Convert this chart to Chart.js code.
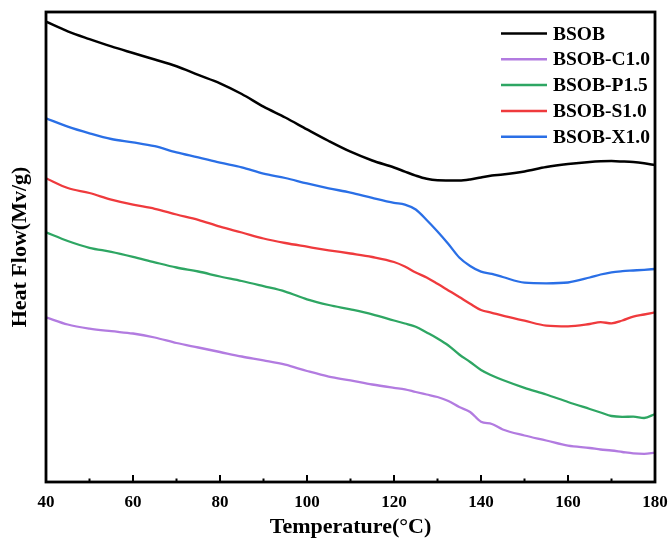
<!DOCTYPE html>
<html>
<head>
<meta charset="utf-8">
<title>DSC curves</title>
<script src="https://cdn.jsdelivr.net/npm/chart.js@4.4.1/dist/chart.umd.min.js"></script>
<style>
  html, body { margin: 0; padding: 0; background: #ffffff; }
  #wrap { width: 671px; height: 538px; }
</style>
</head>
<body>
<div id="wrap"><canvas id="dsc" width="671" height="538"></canvas></div>
<script>
// Temperature grid (°C), shared by all curves
const temperatures = [40, 45, 50, 55, 60, 65, 70, 75, 80, 85, 90, 95, 100, 105, 110, 115, 120,
  122.5, 125, 127.5, 130, 132.5, 135, 137.5, 140, 142.5, 145, 150, 155, 160, 165,
  167.5, 170, 172.5, 175, 177.5, 180];

// Heat flow traces (vertically offset, arbitrary units)
const bsob = [4.603, 4.507, 4.429, 4.356, 4.290, 4.225, 4.157, 4.071, 3.987, 3.880, 3.753, 3.645,
  3.526, 3.410, 3.303, 3.215, 3.145, 3.104, 3.064, 3.032, 3.017, 3.015, 3.014, 3.025, 3.046,
  3.064, 3.075, 3.106, 3.150, 3.180, 3.201, 3.207, 3.209, 3.205, 3.199, 3.187, 3.170];
const bsobC10 = [1.647, 1.575, 1.534, 1.508, 1.485, 1.445, 1.390, 1.345, 1.300, 1.255, 1.216, 1.173,
  1.110, 1.054, 1.016, 0.975, 0.942, 0.927, 0.900, 0.875, 0.850, 0.810, 0.750, 0.700, 0.603,
  0.580, 0.525, 0.465, 0.415, 0.363, 0.340, 0.325, 0.315, 0.300, 0.286, 0.282, 0.293];
const bsobP15 = [2.497, 2.410, 2.342, 2.302, 2.252, 2.197, 2.145, 2.105, 2.055, 2.010, 1.958, 1.904,
  1.827, 1.770, 1.726, 1.677, 1.615, 1.585, 1.552, 1.495, 1.435, 1.365, 1.275, 1.200, 1.120,
  1.065, 1.020, 0.942, 0.875, 0.800, 0.730, 0.695, 0.660, 0.652, 0.653, 0.640, 0.680];
const bsobS10 = [3.037, 2.940, 2.890, 2.824, 2.774, 2.732, 2.675, 2.622, 2.553, 2.495, 2.435, 2.390,
  2.353, 2.317, 2.285, 2.250, 2.200, 2.155, 2.095, 2.045, 1.982, 1.916, 1.850, 1.783, 1.720,
  1.692, 1.663, 1.613, 1.564, 1.557, 1.580, 1.598, 1.587, 1.615, 1.654, 1.675, 1.697];
const bsobX10 = [3.637, 3.554, 3.487, 3.430, 3.397, 3.358, 3.296, 3.246, 3.193, 3.147, 3.083, 3.040,
  2.986, 2.937, 2.894, 2.841, 2.792, 2.774, 2.725, 2.620, 2.505, 2.380, 2.245, 2.160, 2.103,
  2.082, 2.050, 1.993, 1.987, 1.995, 2.045, 2.075, 2.097, 2.108, 2.115, 2.122, 2.130];

const seriesNames = ['BSOB', 'BSOB-C1.0', 'BSOB-P1.5', 'BSOB-S1.0', 'BSOB-X1.0'];
const seriesValues = [bsob, bsobC10, bsobP15, bsobS10, bsobX10];
const seriesColors = ['#000000', '#b27be0', '#2ea663', '#ef3a3d', '#2a6fe6'];

// x-axis tick range
const xMin = 40, xMax = 180, xMajorStep = 20, xMinorStep = 10;

const SERIF = '"Liberation Serif", "Times New Roman", Times, serif';

const datasets = seriesNames.map((name, i) => ({
  label: name,
  data: temperatures.map((t, j) => ({ x: t, y: seriesValues[i][j] })),
  borderColor: seriesColors[i],
  backgroundColor: seriesColors[i],
  borderWidth: i === 0 ? 2.5 : 2.3,
  pointRadius: 0,
  fill: false,
  cubicInterpolationMode: 'monotone'
}));

// Frame, inward ticks and in-plot legend
const framePlugin = {
  id: 'frame',
  afterDatasetsDraw(chart) {
    const { ctx, chartArea: a, scales } = chart;
    const xs = scales.x;
    ctx.save();
    // inward ticks on the bottom axis
    ctx.strokeStyle = '#000';
    ctx.lineWidth = 2;
    for (let v = xMin; v <= xMax; v += xMinorStep) {
      const px = xs.getPixelForValue(v);
      const len = (v - xMin) % xMajorStep === 0 ? 7 : 3.5;
      ctx.beginPath();
      ctx.moveTo(px, a.bottom);
      ctx.lineTo(px, a.bottom - len);
      ctx.stroke();
    }
    // legend
    ctx.font = 'bold 19.5px ' + SERIF;
    ctx.textBaseline = 'middle';
    ctx.textAlign = 'left';
    chart.data.datasets.forEach((ds, i) => {
      const y = 33.5 + i * 25.8;
      ctx.strokeStyle = ds.borderColor;
      ctx.lineWidth = 2.5;
      ctx.beginPath();
      ctx.moveTo(501, y);
      ctx.lineTo(547, y);
      ctx.stroke();
      ctx.fillStyle = '#000';
      ctx.fillText(ds.label, 553, y + 1);
    });
    // frame
    ctx.strokeStyle = '#000';
    ctx.lineWidth = 2.8;
    ctx.strokeRect(a.left, a.top, a.right - a.left, a.bottom - a.top);
    ctx.restore();
  }
};

new Chart(document.getElementById('dsc'), {
  type: 'line',
  data: { datasets },
  options: {
    responsive: false,
    animation: false,
    devicePixelRatio: 1,
    layout: { padding: { top: 12, right: 16, left: 0, bottom: 0 } },
    plugins: { legend: { display: false }, tooltip: { enabled: false } },
    scales: {
      x: {
        type: 'linear',
        min: xMin,
        max: xMax,
        afterFit(scale) {
          scale.height = 56;
          scale.paddingLeft = 0;
          scale.paddingRight = 0;
        },
        ticks: {
          stepSize: xMajorStep,
          color: '#000',
          padding: 10,
          maxRotation: 0,
          font: { family: SERIF, size: 17, weight: 'bold' }
        },
        grid: { display: false, drawTicks: false },
        border: { display: false },
        title: {
          display: true,
          text: 'Temperature(°C)',
          color: '#000',
          padding: 0,
          font: { family: SERIF, size: 22, weight: 'bold', lineHeight: 1 }
        }
      },
      y: {
        min: 0,
        max: 4.7,
        afterFit(scale) { scale.width = 46; },
        ticks: { display: false },
        grid: { display: false, drawTicks: false },
        border: { display: false },
        title: {
          display: true,
          text: 'Heat Flow(Mv/g)',
          color: '#000',
          padding: { top: 9, bottom: 0 },
          font: { family: SERIF, size: 22, weight: 'bold', lineHeight: 1 }
        }
      }
    }
  },
  plugins: [framePlugin]
});
</script>
</body>
</html>
